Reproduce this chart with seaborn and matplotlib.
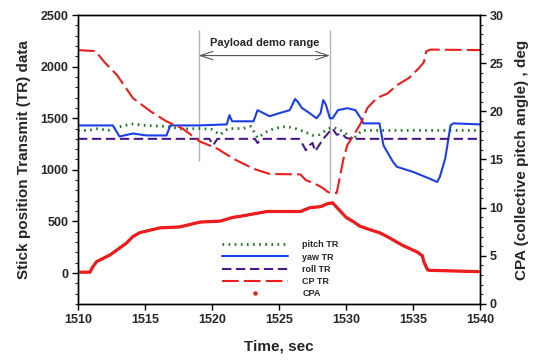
import matplotlib
matplotlib.use("Agg")
import matplotlib.pyplot as plt
from matplotlib.lines import Line2D
from matplotlib.ticker import MultipleLocator
import seaborn as sns

# ---- stick transmit (TR) data, left axis ----
pitch_t = [1510.0, 1510.8, 1511.5, 1512.2, 1513.2, 1514.0, 1515.0, 1516.6, 1517.8, 1519.2,
           1520.0, 1520.6, 1521.2, 1522.3, 1522.9, 1523.4, 1524.2, 1525.0, 1525.6, 1526.5,
           1527.5, 1528.0, 1528.7, 1529.1, 1529.8, 1530.5, 1531.2, 1540.0]
pitch_tr = [1382, 1382, 1400, 1380, 1420, 1445, 1430, 1420, 1395, 1400,
            1390, 1340, 1400, 1400, 1420, 1310, 1380, 1410, 1420, 1390,
            1335, 1340, 1400, 1410, 1370, 1295, 1382, 1382]

yaw_t = [1510.0, 1512.6, 1513.1, 1514.1, 1515.1, 1516.6, 1516.9, 1519.0, 1521.1, 1521.3,
         1521.5, 1523.1, 1523.4, 1524.3, 1525.0, 1525.8, 1526.2, 1526.4, 1526.7, 1527.3,
         1527.8, 1528.1, 1528.3, 1528.5, 1528.8, 1529.0, 1529.4, 1530.1, 1530.7, 1531.1,
         1531.3, 1532.5, 1532.8, 1533.5, 1533.8, 1535.0, 1536.3, 1536.8, 1537.0, 1537.4,
         1537.8, 1538.0, 1540.0]
yaw_tr = [1430, 1430, 1323, 1352, 1333, 1333, 1430, 1430, 1440, 1529,
          1470, 1470, 1578, 1519, 1548, 1578, 1686, 1660, 1600, 1548,
          1499, 1548, 1676, 1630, 1499, 1499, 1578, 1597, 1578, 1500,
          1450, 1450, 1235, 1078, 1029, 980, 911, 882, 931, 1107,
          1430, 1450, 1440]

roll_t = [1510.0, 1519.8, 1520.1, 1520.4, 1523.2, 1523.4, 1523.7, 1526.5, 1526.8, 1527.0,
          1527.3, 1527.5, 1527.7, 1528.0, 1528.3, 1528.7, 1529.0, 1529.3, 1529.7, 1530.0,
          1530.3, 1540.0]
roll_tr = [1300, 1300, 1240, 1300, 1300, 1260, 1300, 1300, 1240, 1190,
           1240, 1260, 1180, 1240, 1300, 1360, 1400, 1340, 1350, 1310,
           1300, 1300]

cp_t = [1510.0, 1511.3, 1512.0, 1512.9, 1514.1, 1515.4, 1516.6, 1517.8, 1519.1, 1520.4,
        1521.6, 1523.1, 1524.3, 1526.6, 1527.0, 1527.6, 1528.2, 1528.6, 1528.8, 1529.3,
        1529.5, 1529.8, 1530.1, 1530.6, 1531.1, 1531.6, 1532.3, 1533.1, 1533.8, 1534.7,
        1535.4, 1535.8, 1536.0, 1536.3, 1540.0]
cp_tr = [2160, 2150, 2040, 1920, 1695, 1568, 1470, 1400, 1274, 1205,
         1107, 1010, 960, 955, 900, 870, 830, 790, 775, 775,
         900, 1100, 1240, 1340, 1450, 1600, 1695, 1740, 1820, 1890,
         1980, 2040, 2150, 2165, 2160]

# ---- collective pitch angle, right axis (deg) ----
cpa_t = [1510.0, 1510.9, 1511.1, 1511.4, 1512.4, 1512.9, 1513.6, 1514.1, 1514.6, 1516.1,
         1517.6, 1519.1, 1520.6, 1521.6, 1522.1, 1524.1, 1526.6, 1527.3, 1528.1, 1528.6,
         1529.0, 1529.4, 1530.0, 1530.6, 1531.0, 1531.8, 1532.5, 1533.2, 1534.2, 1535.3,
         1535.7, 1535.8, 1536.1, 1540.0]
cpa = [3.3, 3.3, 3.85, 4.4, 5.1, 5.6, 6.3, 7.0, 7.4, 7.9,
       8.0, 8.5, 8.6, 9.0, 9.1, 9.6, 9.6, 10.0, 10.1, 10.4,
       10.5, 9.9, 9.0, 8.5, 8.1, 7.7, 7.4, 6.9, 6.1, 5.4,
       5.0, 4.4, 3.5, 3.35]

demo_start, demo_end = 1519.0, 1528.8
demo_label = "Payload demo range"

series_labels = ["pitch TR", "yaw TR", "roll TR", "CP TR", "CPA"]
GREEN, BLUE, PURPLE, RED = "#1f7a1f", "#1b3fe6", "#4a1a8c", "#ee1c1c"

sns.set_style("ticks")
plt.rcParams["font.family"] = ["Liberation Sans", "DejaVu Sans"]
plt.rcParams["font.weight"] = "bold"

fig = plt.figure(figsize=(5.33, 3.61), dpi=100)
ax = fig.add_axes([0.1463, 0.158, 0.7543, 0.8004])
ax2 = ax.twinx()

# demo range markers
ax.vlines(demo_start, 1088, 2352, color="#b4b4b4", lw=1.0, zorder=1)
ax.vlines(demo_end, 800, 2352, color="#b4b4b4", lw=1.0, zorder=1)
ax.annotate("", xy=(demo_start, 2107), xytext=(demo_end, 2107),
            arrowprops=dict(arrowstyle="<->,head_length=0.9,head_width=0.3",
                            color="#555555", lw=0.8, shrinkA=0, shrinkB=0,
                            mutation_scale=10))
ax.text((demo_start + demo_end) / 2, 2230, demo_label, ha="center", va="center",
        fontsize=8, fontweight="bold")

lw = 1.5
sns.lineplot(x=pitch_t, y=pitch_tr, ax=ax, color=GREEN, lw=2.0,
             linestyle=(0, (0.6, 1.6)), estimator=None, sort=False)
sns.lineplot(x=yaw_t, y=yaw_tr, ax=ax, color=BLUE, lw=lw,
             estimator=None, sort=False)
sns.lineplot(x=roll_t, y=roll_tr, ax=ax, color=PURPLE, lw=lw,
             linestyle=(0, (4.5, 2.2)), estimator=None, sort=False)
sns.lineplot(x=cp_t, y=cp_tr, ax=ax, color=RED, lw=lw,
             linestyle=(0, (8, 2.5)), estimator=None, sort=False)
sns.lineplot(x=cpa_t, y=cpa, ax=ax2, color=RED, lw=2.4,
             linestyle=(0, (0.35, 0.55)), dash_capstyle="round",
             estimator=None, sort=False)

ax.set_xlim(1510, 1540)
ax.set_ylim(-300, 2500)
ax2.set_ylim(0, 30)
ax.set_xticks([1510, 1515, 1520, 1525, 1530, 1535, 1540])
ax.set_yticks([0, 500, 1000, 1500, 2000, 2500])
ax.yaxis.set_minor_locator(MultipleLocator(100))
ax2.set_yticks([0, 5, 10, 15, 20, 25, 30])
ax2.yaxis.set_minor_locator(MultipleLocator(1))

for a in (ax, ax2):
    a.tick_params(which="major", length=4, width=1, pad=3, labelsize=9,
                  direction="out", color="black")
    a.tick_params(which="minor", length=2.5, width=0.8, direction="out")
    for s in a.spines.values():
        s.set_visible(True)
        s.set_linewidth(1.0)
        s.set_color("black")
    for lab in a.get_xticklabels() + a.get_yticklabels():
        lab.set_fontweight("bold")

ax.set_xlabel("Time, sec", fontsize=11, fontweight="bold", labelpad=10)
ax.set_ylabel("Stick position Transmit (TR) data", fontsize=11,
              fontweight="bold", labelpad=7)
ax2.set_ylabel("CPA (collective pitch angle) , deg", fontsize=11,
               fontweight="bold", labelpad=8)

handles = [
    Line2D([], [], color=GREEN, lw=2.0, linestyle=(0, (0.6, 1.6))),
    Line2D([], [], color=BLUE, lw=lw),
    Line2D([], [], color=PURPLE, lw=lw, linestyle=(0, (4.5, 2.2))),
    Line2D([], [], color=RED, lw=lw, linestyle=(0, (8, 2.5))),
    Line2D([], [], color=RED, marker="o", markersize=2.2, linestyle="none"),
]
leg = ax2.legend(handles, series_labels, loc="upper left",
                 bbox_to_anchor=(0.358, 0.22), frameon=False,
                 handlelength=7.3, handletextpad=1.6,
                 labelspacing=0.35, borderpad=0, borderaxespad=0, numpoints=1,
                 prop={"weight": "bold", "size": 6.5})

fig.savefig("out.png", dpi=100)
